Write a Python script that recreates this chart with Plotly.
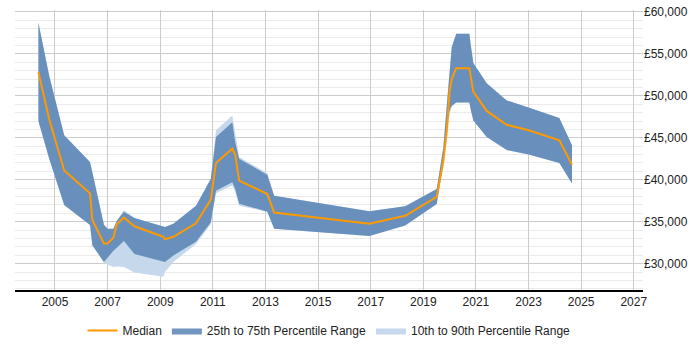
import plotly.graph_objects as go

years = [2004.37, 2004.78, 2005.35, 2006.33, 2006.42, 2006.86, 2007.0, 2007.22, 2007.35,
         2007.62, 2008.02, 2009.12, 2009.18, 2009.5, 2010.36, 2010.92, 2011.12, 2011.74,
         2011.85, 2012.0, 2013.07, 2013.33, 2016.95, 2018.31, 2019.51, 2019.76, 2019.9,
         2020.0, 2020.08, 2020.25, 2020.75, 2020.8, 2020.9, 2021.41, 2022.17, 2023.0,
         2024.17, 2024.65]

median = [52800, 47200, 41100, 38400, 35200, 32400, 32400, 33100, 34700,
          35500, 34450, 33200, 32900, 33200, 34800, 37600, 42000, 43700,
          43000, 39900, 38300, 36100, 34750, 35700, 37950, 42200, 46000,
          50500, 52000, 53300, 53300, 52400, 50500, 48200, 46550, 45900,
          44700, 41800]

p75 = [58700, 52400, 45300, 42100, 40900, 34650, 34150, 34150, 35100,
       36200, 35450, 34450, 34380, 34770, 36900, 40100, 45100, 46850,
       44500, 42500, 40600, 38100, 36250, 36850, 38900, 43800, 49500,
       53500, 55800, 57400, 57400, 56160, 53900, 51500, 49450, 48600,
       47350, 44100]

p25 = [47000, 42500, 37000, 34600, 32200, 30200, 30700, 31550, 31900,
       32700, 31150, 30250, 30200, 30970, 32600, 34900, 38700, 39700,
       38900, 37150, 36200, 34150, 33300, 34550, 37100, 42000, 46900,
       48300, 48800, 49200, 49200, 48400, 47050, 45100, 43550, 43000,
       42000, 39550]

p90 = [58700, 52400, 45300, 42100, 40900, 34650, 34150, 34150, 35100,
       36400, 35450, 34450, 34380, 34770, 36900, 40100, 45900, 47650,
       45500, 42700, 40800, 38100, 36250, 36850, 38900, 43800, 49500,
       53500, 55800, 57400, 57400, 56160, 53900, 51500, 49450, 48600,
       47350, 44100]

p10 = [47000, 42500, 37000, 34600, 32200, 30100, 29900, 29600, 29650,
       29600, 28950, 28450, 29000, 30200, 32350, 34700, 38400, 39300,
       38500, 36900, 36200, 34150, 33300, 34550, 37100, 42000, 46200,
       47700, 48800, 49200, 49200, 48400, 47050, 45100, 43550, 43000,
       42000, 39550]

x_ticks = list(range(2005, 2028, 2))
y_ticks = list(range(30000, 60001, 5000))

DARK = "rgba(88,130,180,0.85)"
LIGHT = "#c6d9ec"
ORANGE = "#ff9900"

fig = go.Figure()
fig.add_trace(go.Scatter(x=years, y=p10, mode="lines", line=dict(width=0),
                         showlegend=False, hoverinfo="skip"))
fig.add_trace(go.Scatter(x=years, y=p90, mode="lines", line=dict(width=0),
                         fill="tonexty", fillcolor=LIGHT,
                         name="10th to 90th Percentile Range", legendrank=3))
fig.add_trace(go.Scatter(x=years, y=p25, mode="lines", line=dict(width=0),
                         showlegend=False, hoverinfo="skip"))
fig.add_trace(go.Scatter(x=years, y=p75, mode="lines", line=dict(width=0),
                         fill="tonexty", fillcolor=DARK,
                         name="25th to 75th Percentile Range", legendrank=2))
fig.add_trace(go.Scatter(x=years, y=median, mode="lines",
                         line=dict(color=ORANGE, width=2),
                         name="Median", legendrank=1))

fig.update_layout(
    width=700, height=350,
    margin=dict(l=15, r=57, t=5, b=58),
    paper_bgcolor="white", plot_bgcolor="white",
    font=dict(family="Liberation Sans, Arial, sans-serif", size=12, color="#222"),
    showlegend=True,
    legend=dict(orientation="h", x=0.5, xanchor="center", y=-0.145, yanchor="middle",
                traceorder="normal",
                font=dict(size=12, color="#222"), itemwidth=30),
    xaxis=dict(range=[2003.48, 2027.35], tickvals=x_ticks, ticktext=[str(v) for v in x_ticks],
               showgrid=True, gridcolor="#cccccc", gridwidth=1,
               showline=True, linecolor="#000", linewidth=1.5,
               zeroline=False, ticks="", fixedrange=True),
    yaxis=dict(range=[26860, 60230], side="right", tickvals=y_ticks,
               ticktext=["£{:,}".format(v) for v in y_ticks],
               showgrid=True, gridcolor="#cccccc", gridwidth=1,
               minor=dict(dtick=1000, tick0=0, showgrid=True, gridcolor="#ebebeb", gridwidth=1),
               zeroline=False, showline=False, ticks="", fixedrange=True),
)

fig.write_html("out.html")
